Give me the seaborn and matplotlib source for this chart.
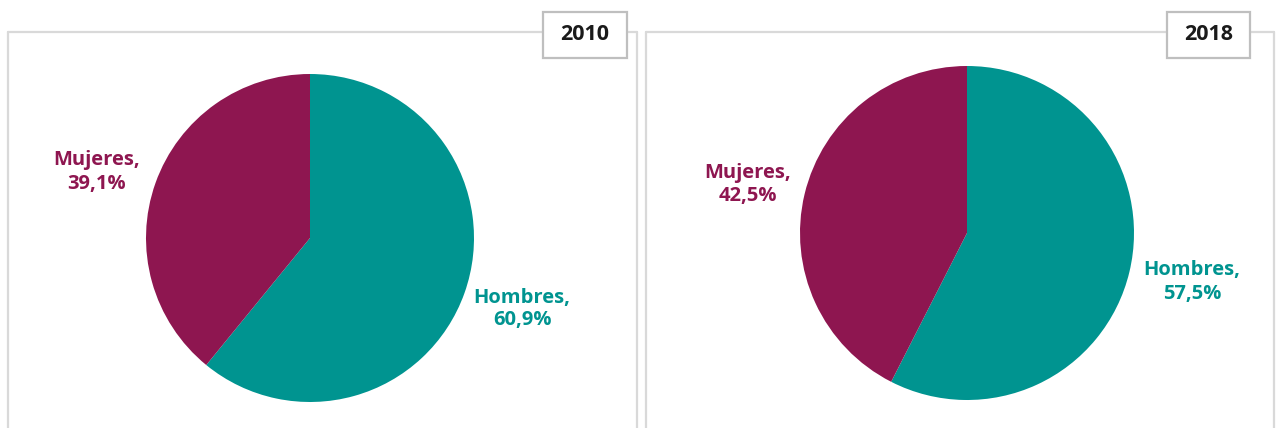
import matplotlib
matplotlib.use("Agg")
import matplotlib.pyplot as plt
from matplotlib.patches import Rectangle
import seaborn as sns

sns.set_theme(style="white")
plt.rcParams["font.family"] = ["Open Sans", "DejaVu Sans"]

years = ["2010", "2018"]
categories = ["Hombres", "Mujeres"]
hombres = [60.9, 57.5]
mujeres = [39.1, 42.5]

colors = sns.color_palette(["#009490", "#8E1650"])

W, H = 1276, 428
fig = plt.figure(figsize=(W / 100, H / 100), dpi=100)
fig.patch.set_facecolor("white")


def fx(px):
    return px / W


def fy(py):
    return 1 - py / H


# panel layout in pixels
panels = [
    dict(left=8, right=637, cx=310, cy=238, r=164, box=(543, 12, 627, 58),
         lab_m=(97, 172), lab_h=(522, 309)),
    dict(left=646, right=1274, cx=967, cy=233, r=167, box=(1167, 12, 1250, 58),
         lab_m=(748, 185), lab_h=(1192, 282)),
]


def fmt(v):
    return f"{v:.1f}".replace(".", ",") + "%"


for i, p in enumerate(panels):
    # light grey panel frame (open at the bottom)
    frame_col = "#D9D9D9"
    top = fy(32)
    for xs, ys in [([fx(p["left"])] * 2, [0, top]),
                   ([fx(p["right"])] * 2, [0, top]),
                   ([fx(p["left"]), fx(p["right"])], [top, top])]:
        fig.add_artist(plt.Line2D(xs, ys, color=frame_col, lw=1.6,
                                  transform=fig.transFigure))

    # pie
    size = 2 * p["r"]
    ax = fig.add_axes([fx(p["cx"] - p["r"]), fy(p["cy"] + p["r"]), size / W, size / H])
    vals = [hombres[i], mujeres[i]]
    ax.pie(vals, colors=colors, startangle=90, counterclock=False,
           wedgeprops=dict(linewidth=0))
    ax.set_xlim(-1, 1)
    ax.set_ylim(-1, 1)
    ax.set_aspect("equal")
    ax.axis("off")

    # year box
    x0, y0, x1, y1 = p["box"]
    fig.add_artist(Rectangle((fx(x0), fy(y1)), fx(x1 - x0), (y1 - y0) / H,
                             transform=fig.transFigure, facecolor="white",
                             edgecolor="#BFBFBF", lw=1.6, zorder=5))
    fig.text(fx((x0 + x1) / 2), fy((y0 + y1) / 2) + 0.002, years[i], ha="center",
             va="center", fontsize=15.5, fontweight="bold", color="#1A1A1A", zorder=6)

    # labels
    fig.text(fx(p["lab_m"][0]), fy(p["lab_m"][1]), f"{categories[1]},\n{fmt(mujeres[i])}",
             ha="center", va="center", fontsize=14.5, fontweight="bold",
             color=colors[1], linespacing=1.2)
    fig.text(fx(p["lab_h"][0]), fy(p["lab_h"][1]), f"{categories[0]},\n{fmt(hombres[i])}",
             ha="center", va="center", fontsize=14.5, fontweight="bold",
             color=colors[0], linespacing=1.2)

fig.savefig("out.png", dpi=100, facecolor="white")
